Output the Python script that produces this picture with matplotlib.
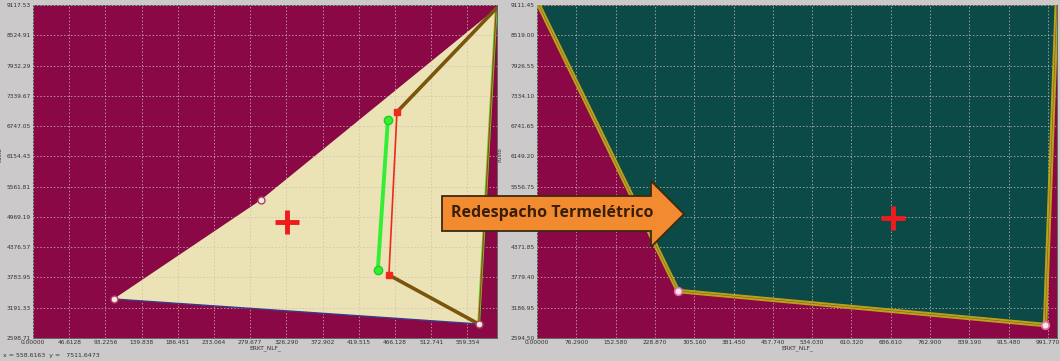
import numpy as np
import matplotlib
matplotlib.use("Agg")
import matplotlib.pyplot as plt
from matplotlib.patches import Polygon

# left panel (before)
left_xstep = 46.6128
left_ymin, left_ystep = 2598.71, 592.62
left_region_x = [103.9, 293.4, 596.5, 573.9]
left_region_y = [3362, 5301, 9050, 2873]
left_cross = (327.2, 4870)
red_seg_x = [468.7, 458.3]
red_seg_y = [7024, 3832]
green_seg_x = [457.0, 444.0]
green_seg_y = [6867, 3930]
left_vertices_x = [103.9, 293.4, 573.9]
left_vertices_y = [3362, 5301, 2873]

# right panel (after)
right_xstep = 76.29
right_ymin, right_ystep = 2594.50, 592.45
right_region_x = [2.0, 273.7, 986.2, 1009.0]
right_region_y = [9140, 3514, 2849, 9140]
right_cross = (691, 4943)
right_vertices_x = [273.7, 986.2]
right_vertices_y = [3514, 2849]

W, H = 1060, 361
maroon = "#8a0846"
bg = "#cbc9c9"

fig = plt.figure(figsize=(W / 100, H / 100), dpi=100, facecolor=bg)

def px(x0, y0, x1, y1):
    return [x0 / W, 1 - y1 / H, (x1 - x0) / W, (y1 - y0) / H]

def setup(ax, xstep, ymin, ystep, xmax, nx, ylab_x, hide_y=None):
    ax.set_facecolor(maroon)
    xt = np.arange(nx) * xstep
    yt = ymin + np.arange(12) * ystep
    ax.set_xticks(xt)
    ax.set_xticklabels([f"{v:#.6g}" for v in xt])
    ax.set_yticks(yt)
    ylabels = [f"{v:.2f}" for v in yt]
    if hide_y is not None:
        ylabels[hide_y] = ""  # sits under the arrow
    ax.set_yticklabels(ylabels)
    ax.set_xlim(0, xmax)
    ax.set_ylim(yt[0], yt[-1])
    ax.tick_params(labelsize=4.2, colors="#333333", length=0, pad=1.5)
    ax.grid(True, color="#c8c0b0", ls=(0, (1.5, 2)), lw=0.7, alpha=0.75)
    ax.set_axisbelow(False)
    for s in ax.spines.values():
        s.set_color("#555555")
        s.set_linewidth(0.6)
    ax.set_xlabel("ERKT_NLF_", fontsize=4.2, color="#333333", labelpad=0.5)
    ax.set_ylabel("custo", fontsize=4.0, color="#333333")
    ax.yaxis.set_label_coords(ylab_x, 0.55)

# ---- left
ax1 = fig.add_axes(px(33, 5, 497, 338))
setup(ax1, left_xstep, left_ymin, left_ystep, 597.5, 14, (3 - 33) / 464)
ax1.add_patch(Polygon(np.column_stack([left_region_x, left_region_y]),
                      closed=True, fc="#ebe2b5", ec="none", zorder=1))
ax1.plot([left_region_x[0], left_region_x[3]], [left_region_y[0], left_region_y[3]],
         color="#3a3a8a", lw=1.0, zorder=3)
# right edge
ax1.plot([left_region_x[2], left_region_x[3]], [left_region_y[2], left_region_y[3]],
         color="#44dd22", lw=2.0, zorder=3)
ax1.plot([left_region_x[2], left_region_x[3]], [left_region_y[2], left_region_y[3]],
         color="#dd2222", lw=0.8, zorder=3)
# olive segments
for xs, ys in [([red_seg_x[0], left_region_x[2]], [red_seg_y[0], left_region_y[2]]),
               ([red_seg_x[1], left_region_x[3]], [red_seg_y[1], left_region_y[3]])]:
    ax1.plot(xs, ys, color="#6e5a08", lw=2.6, zorder=4, solid_capstyle="round")
    ax1.plot(xs, ys, color="#cc3322", lw=0.5, zorder=4, alpha=0.6)
ax1.plot(red_seg_x, red_seg_y, color="#ee2a1a", lw=1.2, zorder=5)
ax1.plot(red_seg_x, red_seg_y, "s", color="#ee2a1a", ms=4, zorder=5)
ax1.plot(green_seg_x, green_seg_y, color="#33ee33", lw=2.8, zorder=6,
         marker="o", ms=6, mfc="#33ee33", mec="#22cc22")
ax1.plot(left_vertices_x, left_vertices_y, "o", ms=5, mfc="#f4e8e8",
         mec="#b04060", mew=1.0, zorder=7)
ax1.plot(*left_cross, "+", color="#ee1c1c", ms=17, mew=3.5, zorder=7)

# ---- right
ax2 = fig.add_axes(px(537, 5, 1057, 338))
setup(ax2, right_xstep, right_ymin, right_ystep, 1009.4, 14, (503 - 537) / 520, hide_y=4)
ax2.add_patch(Polygon(np.column_stack([right_region_x, right_region_y]),
                      closed=True, fc="#0b4a47", ec="none", zorder=1))
edge_x = right_region_x[:3] + [right_region_x[3]]
edge_y = right_region_y[:3] + [right_region_y[3]]
ax2.plot(edge_x, edge_y, color="#c89a10", lw=3.2, zorder=3)
ax2.plot(edge_x, edge_y, color="#7acc30", lw=1.4, zorder=3)
ax2.plot(edge_x, edge_y, color="#dd3322", lw=0.5, zorder=3)
ax2.plot(right_vertices_x, right_vertices_y, "o", ms=5.5, mfc="#f4e8e8",
         mec="#e070a0", mew=1.2, zorder=7)
ax2.plot(*right_cross, "+", color="#ee1c1c", ms=17, mew=3.5, zorder=7)

# status line
fig.text(3 / W, 1 - 355 / H, "x = 558.6163  y =   7511.6473", fontsize=4.5,
         color="#333333", va="center")

# arrow
pts = [(442, 196), (651, 196), (651, 181), (684, 214), (651, 247), (651, 231), (442, 231)]
arrow = Polygon([(x / W, 1 - y / H) for x, y in pts], closed=True,
                transform=fig.transFigure, fc="#f28b30", ec="#3a2a10", lw=1.3, zorder=10)
fig.patches.append(arrow)
fig.text(552 / W, 1 - 213 / H, "Redespacho Termelétrico", fontsize=11.5,
         fontweight="bold", family="Open Sans", color="#3a1e08",
         ha="center", va="center", zorder=11)

fig.savefig("out.png", dpi=100, facecolor=bg)
